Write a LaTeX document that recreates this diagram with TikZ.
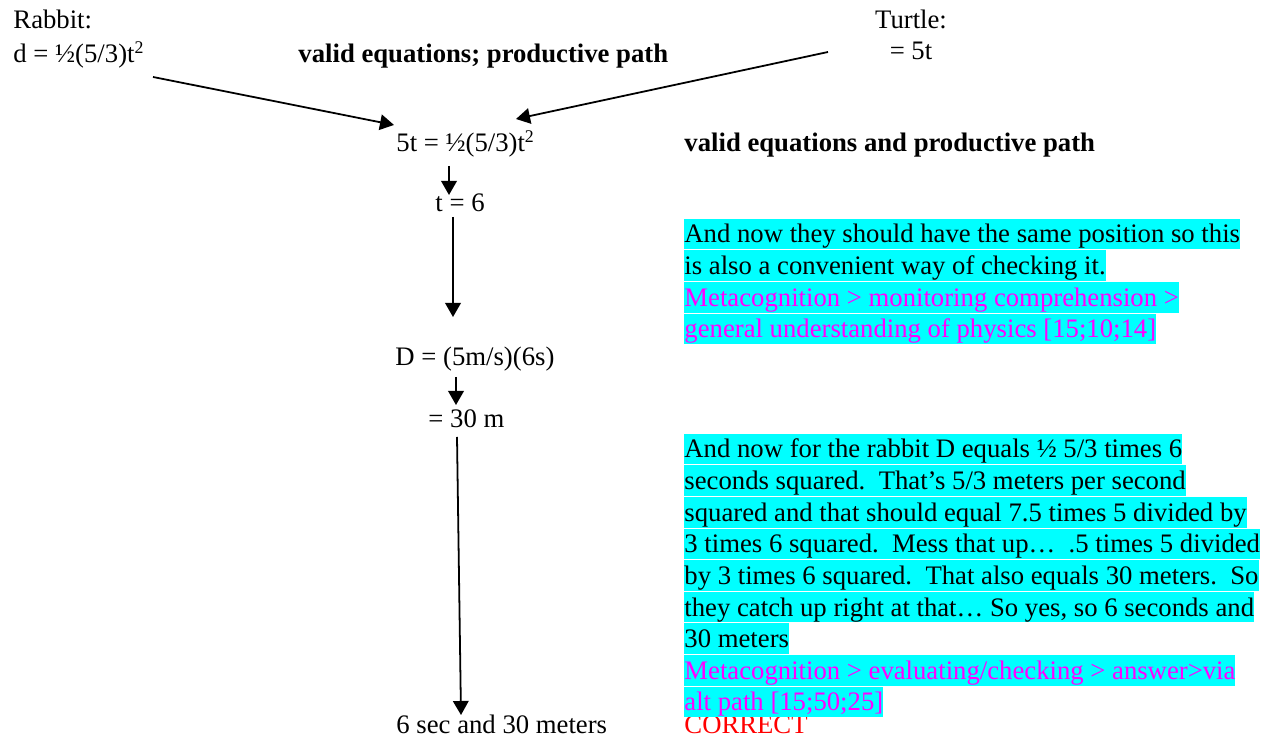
\documentclass[tikz,border=0pt]{standalone}
\usepackage{fontspec}
\setmainfont{Liberation Serif}
\usetikzlibrary{arrows.meta}
\definecolor{hlcyan}{RGB}{0,255,255}
\definecolor{codepink}{RGB}{255,0,255}
\definecolor{verdict}{RGB}{255,0,0}
\tikzset{
  eq/.style={inner sep=0pt, anchor=base west},
  note/.style={eq, font=\fontsize{12pt}{13.8pt}\selectfont\bfseries},
  hl/.style={fill=hlcyan, inner sep=0pt, text height=10.9pt, text depth=2.9pt, anchor=north west},
  flow/.style={line width=0.8pt, -{Triangle[length=6.3pt,width=7pt]}}
}
\begin{document}
\begin{tikzpicture}[x=0.0158cm, y=-0.0158cm, every node/.style={font=\fontsize{12pt}{13.8pt}\selectfont}]
    \useasboundingbox (0,0) rectangle (1270,738);
    % givens
    \node[eq] (rabbit) at (13,29) {Rabbit:};
    \node[eq] (rabbitEq) at (13,63) {d = ½(5/3)t\textsuperscript{2}};
    \node[inner sep=0pt, anchor=base] (turtle) at (911,29) {Turtle:};
    \node[inner sep=0pt, anchor=base] (turtleEq) at (911,60) {= 5t};
    \node[note] (pathA) at (298,63) {valid equations; productive path};
    % solution chain
    \node[eq] (eqA) at (396,152) {5t = ½(5/3)t\textsuperscript{2}};
    \node[note] (pathB) at (684,152) {valid equations and productive path};
    \node[eq] (tsix) at (435,212) {t = 6};
    \node[eq] (eqD) at (395,366) {D = (5m/s)(6s)};
    \node[eq] (thirty) at (428,428) {= 30 m};
    \node[eq] (answer) at (396,733) {6 sec and 30 meters};
    \node[eq, text=verdict] (correct) at (684,734) {CORRECT};
    % arrows
    \draw[flow] ([shift={(140,14)}]rabbitEq.base west) -- ([shift={(-2,-27)}]eqA.base west);
    \draw[flow] ([shift={(-83,-8)}]turtleEq.base) -- ([shift={(120,-33)}]eqA.base west);
    \draw[flow] ([shift={(53,14)}]eqA.base west) -- ([shift={(14,-17)}]tsix.base west);
    \draw[flow] ([shift={(18,5)}]tsix.base west) -- ([shift={(58,-49)}]eqD.base west);
    \draw[flow] ([shift={(61,11)}]eqD.base west) -- ([shift={(28,-23)}]thirty.base west);
    \draw[flow] ([shift={(29,9)}]thirty.base west) -- ([shift={(65,-18)}]answer.base west);
    % first transcript excerpt
    \node[hl, anchor=base west] (ckA1) at (684,243) {And now they should have the same position so this};
    \node[hl] (ckA2) at (ckA1.south west) {is also a convenient way of checking it.};
    \node[hl, text=codepink] (ckA3) at (ckA2.south west) {Metacognition > monitoring comprehension >};
    \node[hl, text=codepink] (ckA4) at (ckA3.south west) {general understanding of physics [15;10;14]};
    % second transcript excerpt
    \node[hl, anchor=base west] (ckB1) at (684,458) {And now for the rabbit D equals ½ 5/3 times 6};
    \node[hl] (ckB2) at (ckB1.south west) {seconds squared.\ \ That’s 5/3 meters per second};
    \node[hl] (ckB3) at (ckB2.south west) {squared and that should equal 7.5 times 5 divided by};
    \node[hl] (ckB4) at (ckB3.south west) {3 times 6 squared.\ \ Mess that up…\ \ .5 times 5 divided};
    \node[hl] (ckB5) at (ckB4.south west) {by 3 times 6 squared.\ \ That also equals 30 meters.\ \ So};
    \node[hl] (ckB6) at (ckB5.south west) {they catch up right at that… So yes, so 6 seconds and};
    \node[hl] (ckB7) at (ckB6.south west) {30 meters};
    \node[hl, text=codepink] (ckB8) at (ckB7.south west) {Metacognition > evaluating/checking > answer>via};
    \node[hl, text=codepink] (ckB9) at (ckB8.south west) {alt path [15;50;25]};
\end{tikzpicture}
\end{document}
